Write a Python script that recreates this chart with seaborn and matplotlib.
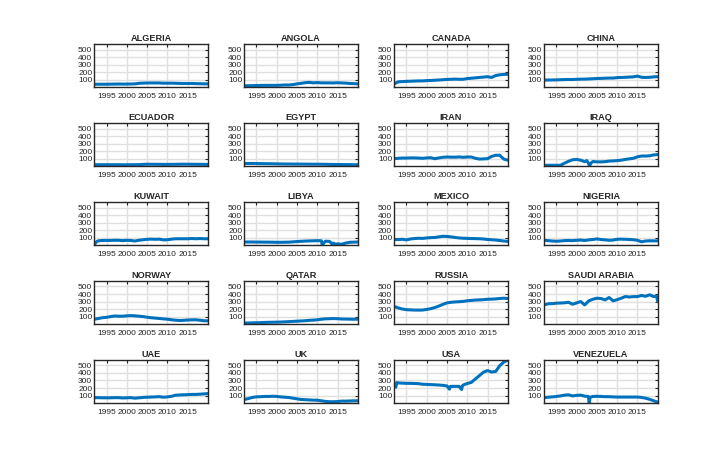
import matplotlib
matplotlib.use("Agg")
import matplotlib.pyplot as plt
import seaborn as sns

# Common yearly grid
years = list(range(1992, 2021))

countries = ["ALGERIA", "ANGOLA", "CANADA", "CHINA",
             "ECUADOR", "EGYPT", "IRAN", "IRAQ",
             "KUWAIT", "LIBYA", "MEXICO", "NIGERIA",
             "NORWAY", "QATAR", "RUSSIA", "SAUDI ARABIA",
             "UAE", "UK", "USA", "VENEZUELA"]

algeria = [40, 40, 40, 40, 41, 42, 43, 42, 42, 43, 45, 52, 55, 57, 57, 57, 57, 54, 54, 54, 53, 51, 50, 50, 50, 48, 47, 45, 45]
angola = [20, 20, 22, 23, 24, 25, 25, 25, 25, 27, 30, 30, 35, 45, 52, 60, 65, 58, 62, 58, 58, 58, 57, 60, 57, 55, 50, 48, 45]
canada = [45, 72, 75, 78, 80, 82, 84, 84, 88, 90, 93, 96, 100, 104, 106, 108, 106, 106, 115, 120, 125, 130, 135, 140, 130, 155, 165, 170, 172]
china = [95, 96, 97, 98, 100, 102, 103, 103, 105, 107, 108, 110, 113, 116, 118, 120, 122, 122, 128, 130, 132, 135, 138, 148, 132, 130, 132, 138, 140]
ecuador = [20, 20, 20, 20, 20, 20, 20, 19, 19, 20, 20, 21, 24, 26, 26, 25, 25, 24, 24, 25, 25, 26, 27, 26, 26, 25, 25, 24, 24]
egypt = [35, 36, 36, 35, 34, 33, 33, 32, 31, 30, 29, 29, 28, 28, 28, 27, 27, 26, 26, 26, 25, 24, 23, 22, 22, 21, 21, 20, 20]
iran = [100, 105, 108, 108, 110, 110, 108, 105, 110, 112, 100, 110, 118, 122, 120, 120, 123, 118, 122, 122, 105, 95, 97, 100, 130, 145, 145, 95, 80]
mexico = [75, 75, 78, 70, 82, 88, 92, 90, 96, 100, 102, 110, 118, 115, 110, 102, 96, 92, 90, 88, 87, 85, 82, 75, 72, 68, 62, 55, 50]
nigeria = [65, 60, 55, 52, 55, 60, 62, 60, 65, 68, 62, 70, 75, 83, 75, 70, 65, 68, 78, 80, 78, 75, 72, 65, 45, 55, 58, 57, 57]
norway = [65, 75, 85, 90, 100, 108, 105, 105, 110, 113, 110, 105, 100, 91, 85, 80, 75, 70, 65, 58, 52, 48, 50, 55, 57, 57, 52, 45, 43]
qatar = [13, 15, 17, 18, 20, 22, 24, 25, 26, 28, 30, 33, 36, 39, 42, 45, 50, 53, 57, 65, 70, 72, 74, 72, 68, 67, 66, 65, 65]
russia = [235, 215, 200, 192, 189, 187, 186, 187, 195, 205, 220, 240, 262, 282, 290, 295, 298, 302, 310, 315, 320, 322, 325, 330, 332, 335, 340, 344, 340]
uae = [72, 72, 70, 70, 70, 72, 72, 68, 70, 72, 65, 70, 75, 78, 80, 82, 85, 78, 82, 90, 104, 108, 110, 112, 115, 115, 118, 122, 126]
uk = [48, 60, 75, 83, 85, 88, 88, 91, 88, 82, 78, 74, 65, 56, 48, 45, 42, 39, 38, 30, 22, 18, 18, 20, 26, 26, 28, 30, 30]

# Series with short-lived disruptions get their own dates
kuwait_x = [1992, 1992.5] + years[1:]
kuwait = [10, 45, 58, 62, 63, 63, 65, 65, 60, 65, 62, 55, 65, 72, 78, 80, 78, 80, 70, 72, 80, 85, 85, 85, 85, 88, 85, 88, 85, 85]

iraq_x = list(range(1992, 2003)) + [2002.5, 2003.0, 2003.2, 2003.5] + list(range(2004, 2021))
iraq = [12, 12, 12, 12, 12, 40, 65, 85, 90, 80, 60,
        75, 30, 2, 40,
        62, 58, 57, 60, 68, 70, 74, 80, 90, 98, 105, 125, 135, 135, 138, 150, 155]

libya_x = list(range(1992, 2011)) + [2011.0, 2011.2, 2011.7, 2012, 2013, 2013.6, 2014, 2014.5, 2015, 2016, 2017, 2018, 2019, 2020]
libya = [42, 42, 42, 41, 41, 40, 40, 39, 38, 38, 39, 40, 44, 48, 51, 54, 56, 58, 60,
         58, 3, 35, 52, 50, 18, 28, 10, 18, 12, 28, 38, 40, 42]

saudi_x = list(range(1992, 2020)) + [2019.7, 2020]
saudi = [255, 270, 272, 278, 280, 283, 290, 264, 282, 300, 255, 309, 330, 344, 340, 322, 353, 309, 325, 344,
         366, 360, 365, 366, 380, 370, 389, 366, 370, 300]

usa_x = [1992, 1992.4, 1992.6] + list(range(1993, 2006)) + [2005.6, 2005.8, 2006, 2007, 2008, 2008.6, 2008.8] + list(range(2009, 2021))
usa = [215, 212, 272,
       268, 265, 262, 262, 260, 258, 250, 248, 245, 243, 240, 235, 228,
       185, 220, 222, 222, 222, 180, 228,
       240, 260, 275, 320, 365, 410, 432, 412, 420, 495, 545, 570]

venezuela_x = list(range(1992, 2003)) + [2002.9, 2003.1, 2003.3] + list(range(2004, 2021))
venezuela = [72, 78, 82, 88, 95, 105, 110, 95, 103, 105, 92,
             88, 5, 75,
             88, 90, 88, 85, 85, 82, 80, 80, 80, 80, 80, 80, 75, 65, 50, 30, 12]

series = {
    "ALGERIA": (years, algeria), "ANGOLA": (years, angola),
    "CANADA": (years, canada), "CHINA": (years, china),
    "ECUADOR": (years, ecuador), "EGYPT": (years, egypt),
    "IRAN": (years, iran), "IRAQ": (iraq_x, iraq),
    "KUWAIT": (kuwait_x, kuwait), "LIBYA": (libya_x, libya),
    "MEXICO": (years, mexico), "NIGERIA": (years, nigeria),
    "NORWAY": (years, norway), "QATAR": (years, qatar),
    "RUSSIA": (years, russia), "SAUDI ARABIA": (saudi_x, saudi),
    "UAE": (years, uae), "UK": (years, uk),
    "USA": (usa_x, usa), "VENEZUELA": (venezuela_x, venezuela),
}

# Style
sns.set_style("white")
plt.rcParams["font.family"] = ["Liberation Sans", "DejaVu Sans"]

fig, axes = plt.subplots(5, 4, figsize=(7.26, 4.57), dpi=100)
fig.subplots_adjust(left=0.13, right=0.906, top=0.903, bottom=0.118,
                    wspace=0.32, hspace=0.84)

for ax, name in zip(axes.flat, countries):
    x, y = series[name]
    sns.lineplot(x=x, y=y, ax=ax, color="#0072BD", linewidth=2.2, sort=False)
    ax.set_xlim(1992, 2020)
    ax.set_ylim(0, 570)
    ax.set_xticks([1995, 2000, 2005, 2010, 2015])
    ax.set_yticks([100, 200, 300, 400, 500])
    ax.grid(True, color="#e0e0e0", linewidth=1.0)
    ax.set_axisbelow(True)
    ax.tick_params(direction="in", length=2.5, width=0.8, top=True, right=True,
                   labelsize=6.0, colors="#262626")
    ax.tick_params(axis="x", pad=4)
    ax.tick_params(axis="y", pad=1.5)
    for s in ax.spines.values():
        s.set_color("#262626")
        s.set_linewidth(1.0)
    ax.set_title(name, fontsize=6.6, fontweight="bold", pad=2.5)
    ax.set_xlabel("")
    ax.set_ylabel("")

plt.savefig("out.png", dpi=100)
